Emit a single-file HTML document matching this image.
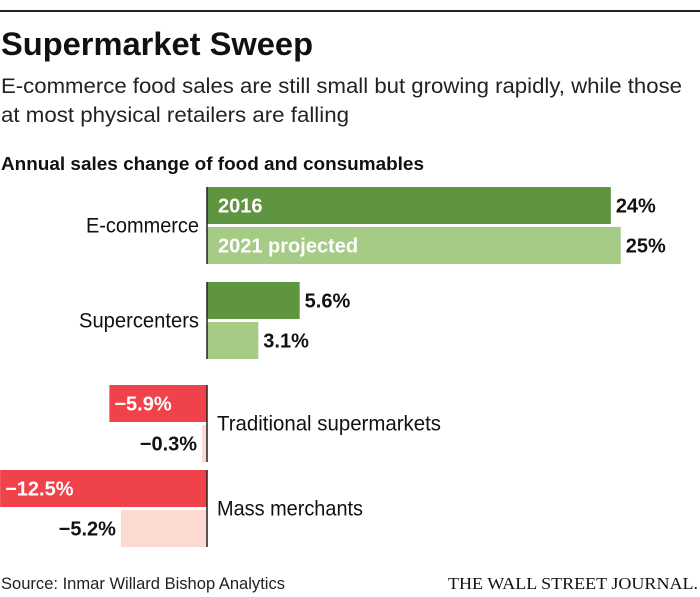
<!DOCTYPE html>
<html><head><meta charset="utf-8"><style>
html,body{margin:0;padding:0;background:#fff;}
svg{display:block;font-family:"Liberation Sans Narrow","Liberation Sans",sans-serif;}
</style></head><body>
<svg id="chart" width="700" height="597" viewBox="0 0 700 597">
<line x1="0" y1="11" x2="700" y2="11" stroke="#222" stroke-width="2"/>
<text x="1" y="55" font-size="32" font-weight="bold" fill="#111" textLength="312" lengthAdjust="spacingAndGlyphs">Supermarket Sweep</text>
<text x="1" y="93" font-size="21" fill="#222" textLength="681" lengthAdjust="spacingAndGlyphs">E-commerce food sales are still small but growing rapidly, while those</text>
<text x="1" y="122" font-size="21" fill="#222" textLength="348" lengthAdjust="spacingAndGlyphs">at most physical retailers are falling</text>
<text x="1" y="170" font-size="18" font-weight="bold" fill="#111" textLength="423" lengthAdjust="spacingAndGlyphs">Annual sales change of food and consumables</text>
<g id="bars"></g>
<text x="1" y="589" font-size="17" fill="#222" textLength="284" lengthAdjust="spacingAndGlyphs">Source: Inmar Willard Bishop Analytics</text>
<text x="698" y="589" font-size="17" fill="#111" text-anchor="end" font-family="Liberation Serif, serif" textLength="250" lengthAdjust="spacingAndGlyphs">THE WALL STREET JOURNAL.</text>
</svg>
<script>
const categories = ["E-commerce", "Supercenters", "Traditional supermarkets", "Mass merchants"];
const values2016 = [24.4, 5.6, -5.9, -12.5];
const values2021 = [25, 3.1, -0.3, -5.2];
const labels2016 = ["24%", "5.6%", "\u22125.9%", "\u221212.5%"];
const labels2021 = ["25%", "3.1%", "\u22120.3%", "\u22125.2%"];

const NS = "http://www.w3.org/2000/svg";
const g = document.getElementById("bars");
const x0 = 207, pxPer = 16.55;
const groupTop = [187, 282, 385, 470];
const catWidths = [113, 120, 224, 146];
const barH = 37, gap = 3;
function xs(v){ return x0 + v * pxPer; }
function mk(tag, attrs){ const e = document.createElementNS(NS, tag); for (const k in attrs) e.setAttribute(k, attrs[k]); return e; }

categories.forEach((cat, i) => {
  const top = groupTop[i];
  [[values2016, labels2016, 0], [values2021, labels2021, 1]].forEach(([vals, labs, s]) => {
    const v = vals[i];
    const y = top + s * (barH + gap);
    const pos = v >= 0;
    const color = pos ? (s === 0 ? "#5f9441" : "#a6cb86") : (s === 0 ? "#f0424a" : "#fcd9d1");
    const r = mk("rect", {x: Math.min(xs(0), xs(v)), y: y, width: Math.abs(xs(v) - xs(0)), height: barH, fill: color});
    
    
    g.appendChild(r);
    const inside = !pos && s === 0;
    let tx, anchor, fill;
    if (pos) { tx = xs(v) + 5; anchor = "start"; fill = "#111"; }
    else if (inside) { tx = xs(v) + 5; anchor = "start"; fill = "#fff"; }
    else { tx = xs(v) - 5; anchor = "end"; fill = "#111"; }
    const t = mk("text", {x: tx, y: y + barH / 2 + 7, "font-size": 20, "font-weight": "bold", fill: fill, "text-anchor": anchor});
    t.textContent = labs[i];
    
    
    g.appendChild(t);
  });
  const gy = top + barH + gap / 2;
  const ax = mk("line", {x1: x0, x2: x0, y1: top, y2: top + 2 * barH + gap, stroke: "#222", "stroke-width": 1.5});
  
  
  g.appendChild(ax);
  const pos = values2016[i] >= 0;
  const ct = mk("text", {x: pos ? x0 - 8 - catWidths[i] : x0 + 10, y: gy + 7, "font-size": 21, fill: "#111", textLength: catWidths[i], lengthAdjust: "spacingAndGlyphs"});
  ct.textContent = cat;
  
  
  g.appendChild(ct);
});

[["2016", 0], ["2021 projected", 1]].forEach(([txt, s]) => {
  const y = groupTop[0] + s * (barH + gap) + barH / 2 + 7;
  const t = mk("text", {x: x0 + 11, y: y, "font-size": 20, "font-weight": "bold", fill: "#fff"});
  t.textContent = txt;
  
  
  g.appendChild(t);
});
</script>
</body></html>
